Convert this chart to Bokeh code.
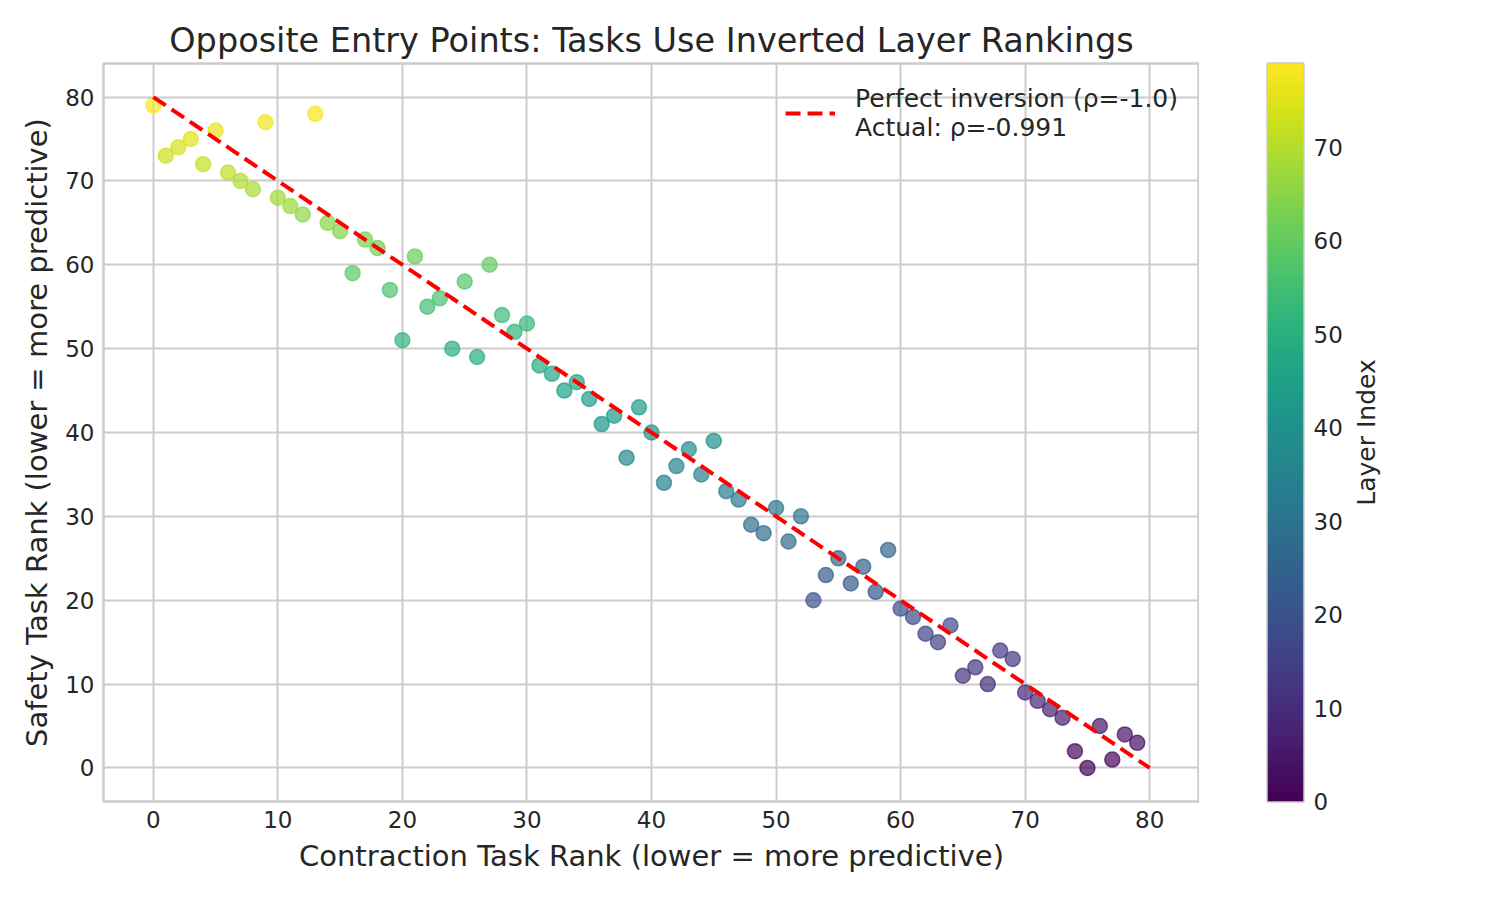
import numpy as np
from bokeh.plotting import figure
from bokeh.layouts import row
from bokeh.models import (ColumnDataSource, LinearColorMapper, FixedTicker,
                          Legend, LegendItem, Range1d)
from bokeh.palettes import Viridis256
from bokeh.transform import linear_cmap
from bokeh.embed import file_html
from bokeh.resources import INLINE

# ---- data ----
contraction_rank = list(range(80))
safety_rank = [79, 73, 74, 75, 72, 76, 71, 70, 69, 77,
               68, 67, 66, 78, 65, 64, 59, 63, 62, 57,
               51, 61, 55, 56, 50, 58, 49, 60, 54, 52,
               53, 48, 47, 45, 46, 44, 41, 42, 37, 43,
               40, 34, 36, 38, 35, 39, 33, 32, 29, 28,
               31, 27, 30, 20, 23, 25, 22, 24, 21, 26,
               19, 18, 16, 15, 17, 11, 12, 10, 14, 13,
               9, 8, 7, 6, 2, 0, 5, 1, 4, 3]
layer_index = list(safety_rank)
x_ticks = [0, 10, 20, 30, 40, 50, 60, 70, 80]
y_ticks = [0, 10, 20, 30, 40, 50, 60, 70, 80]
cbar_ticks = [0, 10, 20, 30, 40, 50, 60, 70]
rho_actual = -0.991

n_layers = len(contraction_rank)
inversion_x = [0, n_layers]
inversion_y = [n_layers, 0]

FONT = "DejaVu Sans"
TXT = "#262626"
GRID = "#cccccc"

p = figure(frame_width=1096, frame_height=738,
           x_range=Range1d(-4, 84), y_range=Range1d(-4, 84),
           output_backend="svg", toolbar_location=None,
           min_border_left=103, min_border_top=63, min_border_bottom=91, min_border_right=0,
           title="Opposite Entry Points: Tasks Use Inverted Layer Rankings")
p.background_fill_color = "white"
p.border_fill_color = "white"
p.outline_line_color = GRID
p.outline_line_width = 2.5

p.title.text_font = FONT
p.title.text_font_size = "33.5px"
p.title.text_font_style = "normal"
p.title.text_color = TXT
p.title.align = "center"
p.title.standoff = 8

p.xaxis.ticker = FixedTicker(ticks=x_ticks)
p.yaxis.ticker = FixedTicker(ticks=y_ticks)
for ax in (p.xaxis[0], p.yaxis[0]):
    ax.axis_line_color = None
    ax.major_tick_line_color = None
    ax.minor_tick_line_color = None
    ax.major_tick_out = 0
    ax.major_tick_in = 0
    ax.major_label_text_font = FONT
    ax.major_label_text_font_size = "23px"
    ax.major_label_text_color = TXT
    ax.axis_label_text_font = FONT
    ax.axis_label_text_font_size = "29px"
    ax.axis_label_text_font_style = "normal"
    ax.axis_label_text_color = TXT
    ax.major_label_standoff = 9
    ax.axis_label_standoff = 8
p.xaxis.axis_label = "Contraction Task Rank (lower = more predictive)"
p.yaxis.axis_label = "Safety Task Rank (lower = more predictive)"

p.grid.grid_line_color = GRID
p.grid.grid_line_width = 2
p.xgrid.ticker = FixedTicker(ticks=x_ticks)
p.ygrid.ticker = FixedTicker(ticks=y_ticks)

src = ColumnDataSource(dict(x=contraction_rank, y=safety_rank, layer=layer_index))
cmap = linear_cmap("layer", Viridis256, 0, n_layers - 1)
p.scatter(x="x", y="y", source=src, size=15, fill_color=cmap, line_color=cmap,
          fill_alpha=0.7, line_alpha=0.7, line_width=1.5)

line_r = p.line(x=inversion_x, y=inversion_y, line_color="#ff0000", line_width=4,
                line_dash="15 7")

legend = Legend(items=[LegendItem(label="Perfect inversion (\u03c1=-1.0)\nActual: \u03c1=%.3f" % rho_actual,
                                  renderers=[line_r])],
                location="top_right", margin=21, padding=12,
                background_fill_alpha=0, border_line_color=None,
                label_text_font=FONT, label_text_font_size="25px", label_text_color=TXT,
                glyph_width=50, label_standoff=20, spacing=0)
p.add_layout(legend)

# ---- colorbar as its own small figure ----
mapper = LinearColorMapper(palette=Viridis256, low=0, high=n_layers - 1)
cb = figure(frame_width=36, frame_height=738,
            x_range=Range1d(0, 1), y_range=Range1d(0, n_layers - 1),
            x_axis_location=None, y_axis_location="right",
            output_backend="svg", toolbar_location=None,
            min_border_left=68, min_border_top=63, min_border_bottom=91, min_border_right=45)
cb.background_fill_color = "white"
cb.border_fill_color = "white"
cb.grid.visible = False
cb.outline_line_color = GRID
cb.outline_line_width = 2.5
gradient = np.linspace(0, n_layers - 1, 512).reshape(512, 1)
cb.image(image=[gradient], x=0, y=0, dw=1, dh=n_layers - 1, color_mapper=mapper)
ya = cb.yaxis[0]
ya.ticker = FixedTicker(ticks=cbar_ticks)
ya.axis_line_color = None
ya.major_tick_line_color = None
ya.minor_tick_line_color = None
ya.major_tick_out = 0
ya.major_tick_in = 0
ya.major_label_standoff = 10
ya.major_label_text_font = FONT
ya.major_label_text_font_size = "23px"
ya.major_label_text_color = TXT

# ---- colorbar title ("Layer Index"), as the left-axis label of an empty strip ----
lab = figure(frame_width=1, frame_height=738,
             x_range=Range1d(0, 1), y_range=Range1d(0, n_layers - 1),
             x_axis_location=None, y_axis_location="left",
             output_backend="svg", toolbar_location=None,
             min_border_left=40, min_border_top=63, min_border_bottom=91, min_border_right=0)
lab.background_fill_color = "white"
lab.border_fill_color = "white"
lab.outline_line_color = None
lab.grid.visible = False
la = lab.yaxis[0]
la.ticker = FixedTicker(ticks=[])
la.axis_line_color = None
la.major_tick_line_color = None
la.minor_tick_line_color = None
la.major_tick_out = 0
la.major_tick_in = 0
la.major_label_standoff = 0
la.major_label_text_font_size = "0px"
la.axis_label = "Layer Index"
la.axis_label_text_font = FONT
la.axis_label_text_font_size = "25px"
la.axis_label_text_font_style = "normal"
la.axis_label_text_color = TXT
la.axis_label_standoff = 18

layout = row(p, cb, lab)
open("out.html", "w").write(file_html(layout, INLINE))
